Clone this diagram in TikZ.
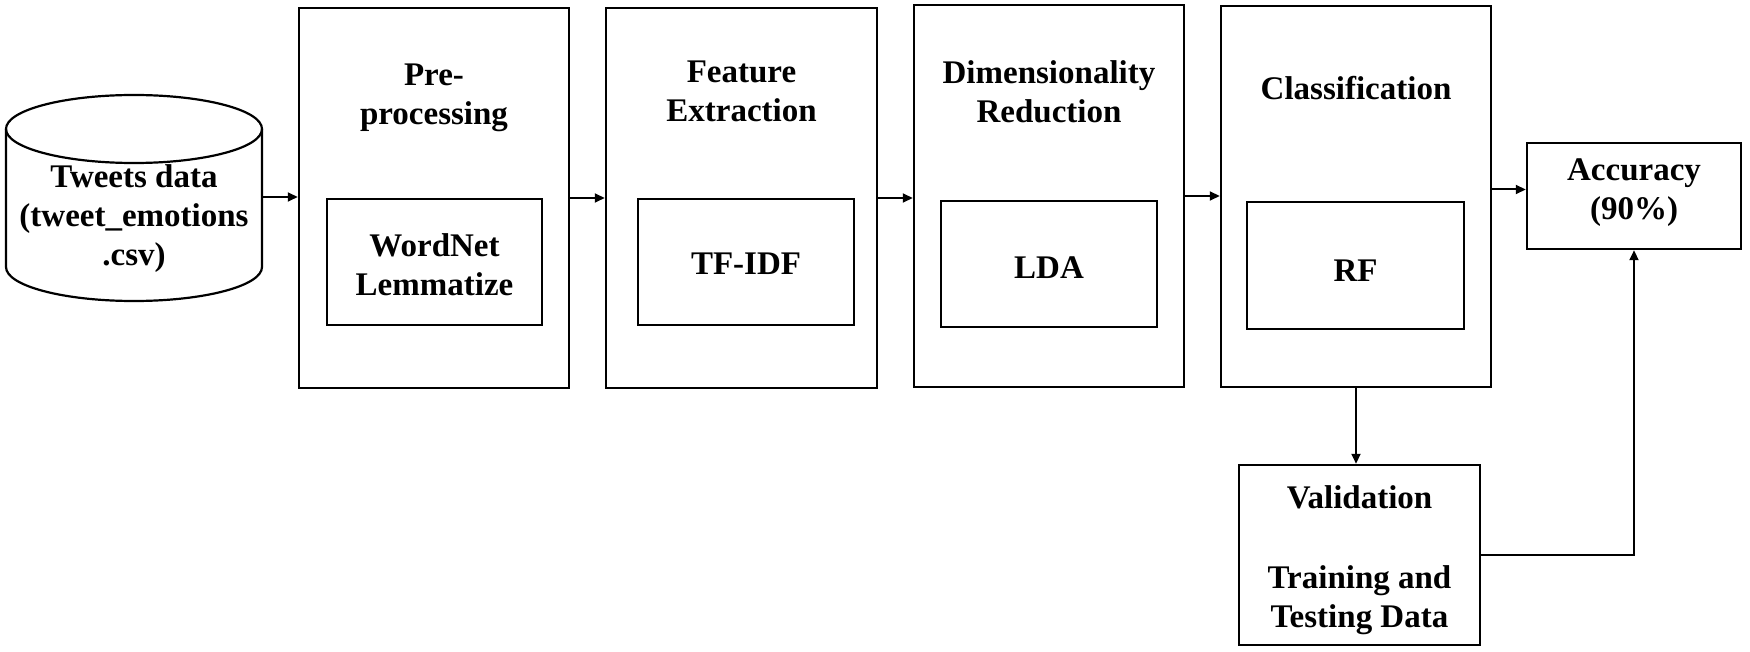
\documentclass[tikz,border=0pt]{standalone}
\usepackage{fontspec}
\setmainfont{Liberation Serif}
\usetikzlibrary{arrows.meta,calc}
\begin{document}
\begin{tikzpicture}[x=1pt,y=-1pt,
  txt/.style={font=\fontsize{33}{39}\selectfont\bfseries, align=center, inner sep=0pt},
  bigbox/.style={draw, line width=2.5pt, minimum width=270pt, minimum height=380pt, inner sep=0pt},
  inbox/.style={draw, line width=2.5pt, minimum width=215pt, minimum height=126pt, inner sep=0pt},
  arr/.style={line width=2pt, -{Triangle[length=10pt,width=9pt]}}
]
\useasboundingbox (0,0) rectangle (1750,652);
% cylinder
\draw[line width=2.2pt] (6,129) -- (6,267) arc[start angle=180,end angle=360,x radius=128pt,y radius=34pt] -- (262,129);
\draw[line width=2.2pt] (134,129) ellipse[x radius=128pt,y radius=34pt];
\node (cyl) at (134,197) [minimum width=256pt, minimum height=120pt, inner sep=0pt] {};
\node (cyltext) at (134,219) [txt] {Tweets data\\(tweet\_emotions\\.csv)};
% big boxes
\node (pre) at (434,198) [bigbox] {};
\node (feat) at (741.5,198) [bigbox, minimum width=271pt] {};
\node (dim) at (1049,196) [bigbox, minimum height=382pt] {};
\node (cls) at (1356,196.5) [bigbox, minimum height=381pt] {};
% titles
\node (pretitle) at (434,97.5) [txt] {Pre-\\processing};
\node (feattitle) at (741.5,91.5) [txt] {Feature\\Extraction};
\node (dimtitle) at (1049,92) [txt] {Dimensionality\\Reduction};
\node (clstitle) at (1356,88) [txt] {Classification};
% inner boxes
\node (wn) at (434.5,262) [inbox] {};
\node (wntext) at (434.5,265) [txt] {WordNet\\Lemmatize};
\node (tfidf) at (746,262) [inbox, minimum width=216pt] {};
\node (tfidftext) at (746,264) [txt] {TF-IDF};
\node (lda) at (1049,264) [inbox, minimum width=216pt] {};
\node (ldatext) at (1049,268) [txt] {LDA};
\node (rf) at (1355.5,265.5) [inbox, minimum width=217pt, minimum height=127pt] {};
\node (rftext) at (1355.5,271) [txt] {RF};
% accuracy and validation
\node (acc) at (1634,196) [draw, line width=2.5pt, minimum width=214pt, minimum height=106pt, inner sep=0pt] {};
\node (acctext) at (1634,193) [txt] {Accuracy\\(90\%)};
\node (val) at (1359.5,555) [draw, line width=2.5pt, minimum width=241pt, minimum height=180pt, inner sep=0pt] {};
\node (valtitle) at (1359.5,497) [txt] {Validation};
\node (valtext) at (1359.5,600) [txt] {Training and\\Testing Data};
% connectors
\draw[arr] (cyl.east) -- (cyl.east -| pre.west);
\draw[arr] (pre.east) -- (pre.east -| feat.west);
\draw[arr] (feat.east) -- (feat.east -| dim.west);
\draw[arr] (dim.east) -- (dim.east -| cls.west);
\coordinate (c1) at ([yshift=7pt]cls.east);
\draw[arr] (c1) -- (c1 -| acc.west);
\draw[arr] (cls.south) -- (cls.south |- val.north);
\draw[arr] (val.east) -| (acc.south);
\end{tikzpicture}
\end{document}
